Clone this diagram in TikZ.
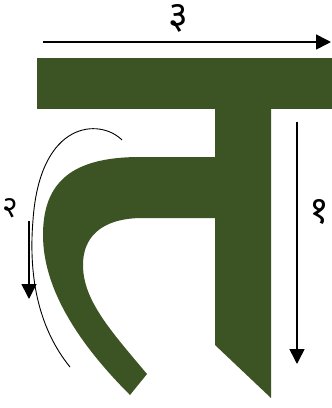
\documentclass[tikz,border=0pt]{standalone}
\usepackage{fontspec}
\newfontfamily\deva[Script=Devanagari]{Noto Sans}
\usetikzlibrary{arrows.meta}
\definecolor{letgreen}{RGB}{60,84,36}
\tikzset{
  letter/.style={fill=letgreen, draw=none},
  orderarrow/.style={line width=1.6pt, -{Triangle[length=15pt,width=15pt]}},
  guide/.style={line width=0.9pt},
  numlabel/.style={font=\deva\fontsize{38}{38}\selectfont, inner sep=0pt},
  smalllabel/.style={font=\deva\fontsize{30}{30}\selectfont, inner sep=0pt}
}
\begin{document}
\begin{tikzpicture}[x=1pt,y=-1pt]
\useasboundingbox (0,0) rectangle (332,408);
% letter shape
\fill[letter] (37,58) rectangle (332,109);
\fill[letter] (215,108) -- (271,108) -- (271,398) -- (215,345) -- cycle;
\fill[letter] (216,157) -- (140,157) .. controls (72,157) and (43,182) .. (43,235)
  .. controls (43,290) and (80,345) .. (130,395) -- (147,374)
  .. controls (110,330) and (83,300) .. (83,265)
  .. controls (83,238) and (100,219) .. (140,218) -- (216,218) -- cycle;
% stroke 3 (top)
\coordinate (a3s) at (43,42);
\coordinate (a3e) at (331,42);
\draw[orderarrow] (a3s) -- (a3e);
\node[numlabel] (n3) at (178,18) {३};
% stroke 1 (right)
\coordinate (a1s) at (297,122);
\coordinate (a1e) at (297,364);
\draw[orderarrow] (a1s) -- (a1e);
\node[numlabel] (n1) at (319,212) {१};
% stroke 2 (left curve)
\coordinate (g1) at (122,140);
\coordinate (g2) at (33,220);
\coordinate (g3) at (70,367);
\draw[guide] (g1) .. controls (100,118) and (40,120) .. (g2)
  .. controls (28,280) and (40,330) .. (g3);
\coordinate (a2s) at (29,221);
\coordinate (a2e) at (29,299);
\draw[orderarrow] (a2s) -- (a2e);
\node[smalllabel] (n2) at (10,208) {२};
\end{tikzpicture}
\end{document}
